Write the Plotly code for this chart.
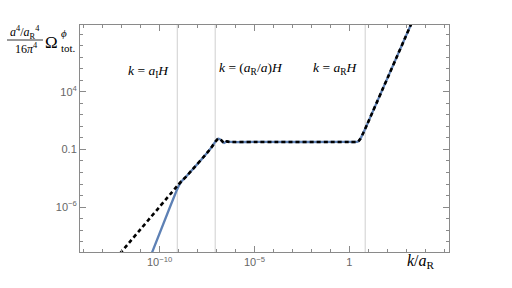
import numpy as np
import plotly.graph_objects as go

# values, as log10(k/a_R) and log10 of the rescaled spectrum
log_k_approx = [-12.1, -9.07, -8.85, -8.6, -7.3, -7.05, -6.9, -6.75, -6.6, -6.45,
                -6.3, -5.0, 0.0, 0.45, 0.58, 0.74, 0.95, 3.35]
log_om_approx = [-10.05, -4.17, -3.75, -3.35, -0.9, -0.3, -0.06, -0.2, -0.45, -0.3,
                 -0.35, -0.35, -0.35, -0.33, -0.09, 0.43, 1.2, 10.2]

log_k_full = [-10.45, -9.6, -9.2, -9.0, -8.85, -8.6, -7.3, -7.05, -6.9, -6.75, -6.6,
              -6.45, -6.3, -5.0, 0.0, 0.45, 0.58, 0.74, 0.95, 3.35]
log_om_full = [-10.15, -6.6, -4.95, -4.2, -3.78, -3.35, -0.9, -0.3, -0.06, -0.2, -0.45,
               -0.3, -0.35, -0.35, -0.35, -0.33, -0.09, 0.43, 1.2, 10.2]

# scales marked by the grey vertical lines
log_k_marks = [-9.07, -7.07, 0.84]
mark_labels = [
    "<i>k</i> = <i>a</i><sub>I</sub><i>H</i>",
    "<i>k</i> = (<i>a</i><sub>R</sub>/<i>a</i>)<i>H</i>",
    "<i>k</i> = <i>a</i><sub>R</sub><i>H</i>",
]

x_ticks = [1e-10, 1e-5, 1]
x_ticktext = ["10<sup>\u221210</sup>", "10<sup>\u22125</sup>", "1"]
y_ticks = [1e-6, 0.1, 1e4]
y_ticktext = ["10<sup>\u22126</sup>", "0.1", "10<sup>4</sup>"]

SERIF = "Liberation Serif"
FRAME = "#8a8a8a"

fig = go.Figure()

for lk in log_k_marks:
    fig.add_trace(go.Scatter(
        x=[10 ** lk, 10 ** lk], y=[1e-12, 1e12], mode="lines",
        line=dict(color="#cfcfcf", width=1), showlegend=False, hoverinfo="skip",
    ))

fig.add_trace(go.Scatter(
    x=10 ** np.array(log_k_full), y=10 ** np.array(log_om_full), mode="lines",
    line=dict(color="#5e81b5", width=2.3, shape="spline", smoothing=0.6),
    showlegend=False,
))
fig.add_trace(go.Scatter(
    x=10 ** np.array(log_k_approx), y=10 ** np.array(log_om_approx), mode="lines",
    line=dict(color="black", width=2.6, dash="4px,3px", shape="spline", smoothing=0.6),
    showlegend=False,
))

axis_common = dict(
    type="log", showgrid=False, zeroline=False, showline=True, linecolor=FRAME,
    linewidth=1, mirror="ticks", ticks="inside", ticklen=6, tickcolor=FRAME,
    tickfont=dict(family="Liberation Sans", size=11, color="#666666"),
)

fig.update_xaxes(
    range=[-14.2, 5.26], tickvals=x_ticks, ticktext=x_ticktext,
    minor=dict(tickvals=[10.0 ** e for e in range(-14, 6)], ticks="inside",
               ticklen=3, tickcolor=FRAME),
    **axis_common,
)
fig.update_yaxes(
    range=[-9.9, 9.8], tickvals=y_ticks, ticktext=y_ticktext,
    minor=dict(tickvals=[10.0 ** e for e in range(-9, 10)], ticks="inside",
               ticklen=3, tickcolor=FRAME),
    **axis_common,
)

# labels of the vertical lines
label_pos = [(-10.58, 5.75), (-5.2, 6.0), (-0.74, 6.0)]
for (lx, ly), txt in zip(label_pos, mark_labels):
    fig.add_annotation(x=lx, y=ly, xref="x", yref="y", text=txt, showarrow=False,
                       xanchor="center", yanchor="middle",
                       font=dict(family=SERIF, size=13.5, color="black"))


def paper(px, py):
    return (px - 80) / 369, (252 - py) / 227


# y-axis label as a stacked fraction
for (px, py), txt, size in [
    ((25, 32), "<i>a</i><sup>4</sup>/<i>a</i><sub>R</sub><sup>4</sup>", 12),
    ((26, 48), "16<i>\u03c0</i><sup>4</sup>", 12),
    ((51, 42), "\u03a9", 17),
    ((64, 33), "<i>\u03d5</i>", 11),
    ((68, 48), "tot.", 11),
]:
    xp, yp = paper(px, py)
    fig.add_annotation(x=xp, y=yp, xref="paper", yref="paper", text=txt,
                       showarrow=False, xanchor="center", yanchor="middle",
                       font=dict(family=SERIF, size=size, color="black"))

x0, y0 = paper(7, 40)
x1, _ = paper(43, 40)
fig.add_shape(type="line", xref="paper", yref="paper", x0=x0, x1=x1, y0=y0, y1=y0,
              line=dict(color="black", width=0.8))

xp, yp = paper(421, 261)
fig.add_annotation(x=xp, y=yp, xref="paper", yref="paper",
                   text="<i>k</i>/<i>a</i><sub>R</sub>", showarrow=False,
                   xanchor="center", yanchor="middle",
                   font=dict(family=SERIF, size=16, color="black"))

fig.update_layout(
    width=512, height=288,
    margin=dict(l=80, r=63, t=25, b=36),
    paper_bgcolor="white", plot_bgcolor="white",
)

# drop the default body margin so the figure sits at the page origin
fig.write_html("out.html", config={"displayModeBar": False},
               post_script="document.body.style.margin='0';")
